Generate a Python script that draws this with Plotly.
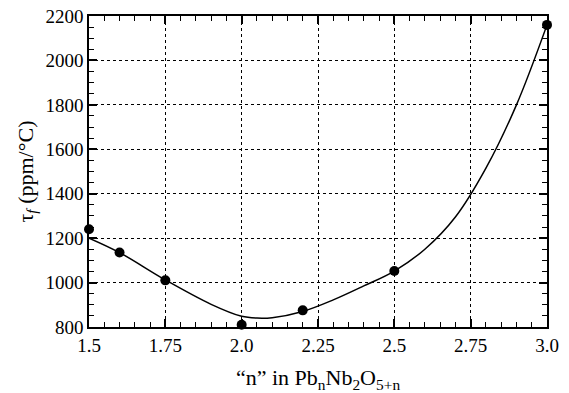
import plotly.graph_objects as go

# measured data points
n_pts = [1.5, 1.6, 1.75, 2.0, 2.2, 2.5, 3.0]
tau_pts = [1240, 1135, 1010, 810, 875, 1052, 2160]

# fitted curve
n_fit = [1.5, 1.6, 1.75, 1.9, 2.0, 2.05, 2.1, 2.2, 2.3, 2.4, 2.5, 2.6, 2.7, 2.8, 2.9, 3.0]
tau_fit = [1200, 1135, 1012, 902, 848, 840, 842, 870, 922, 985, 1052, 1150, 1295, 1515, 1800, 2160]

x_ticks = [1.5, 1.75, 2.0, 2.25, 2.5, 2.75, 3.0]
x_ticktext = ["1.5", "1.75", "2.0", "2.25", "2.5", "2.75", "3.0"]
y_ticks = [800, 1000, 1200, 1400, 1600, 1800, 2000, 2200]

font = "Liberation Serif, Times New Roman, serif"

fig = go.Figure()
fig.add_trace(go.Scatter(x=n_fit, y=tau_fit, mode="lines",
                         line=dict(color="black", width=1.5, shape="spline", smoothing=1.0),
                         hoverinfo="skip", showlegend=False))
fig.add_trace(go.Scatter(x=n_pts, y=tau_pts, mode="markers", marker=dict(color="black", size=10),
                         cliponaxis=False, showlegend=False))

axis_common = dict(
    showline=True, linecolor="black", linewidth=1.5, mirror="ticks",
    ticks="inside", ticklen=8, tickwidth=1.5, tickcolor="black",
    showgrid=True, gridcolor="black", griddash="dot", gridwidth=1,
    zeroline=False, automargin=False, tickfont=dict(family=font, size=19, color="black"),
)

fig.update_xaxes(range=[1.5, 3.0], tickvals=x_ticks, ticktext=x_ticktext,
                 minor=dict(dtick=0.05, ticks="inside", ticklen=5, tickwidth=1.2, tickcolor="black", showgrid=False),
                 title=dict(text="“n” in Pb<sub>n</sub>Nb<sub>2</sub>O<sub>5+n</sub>",
                            font=dict(family=font, size=22, color="black"), standoff=18),
                 **axis_common)
fig.update_yaxes(range=[800, 2200], tickvals=y_ticks,
                 minor=dict(dtick=50, ticks="inside", ticklen=5, tickwidth=1.2, tickcolor="black", showgrid=False),
                 title=dict(text="τ<sub><i>f</i></sub> (ppm/°C)",
                            font=dict(family=font, size=22, color="black"), standoff=6),
                 **axis_common)

fig.update_layout(width=569, height=393, margin=dict(l=89, r=22, t=16, b=66),
                  paper_bgcolor="white", plot_bgcolor="white", showlegend=False)

fig.write_html("out.html")
